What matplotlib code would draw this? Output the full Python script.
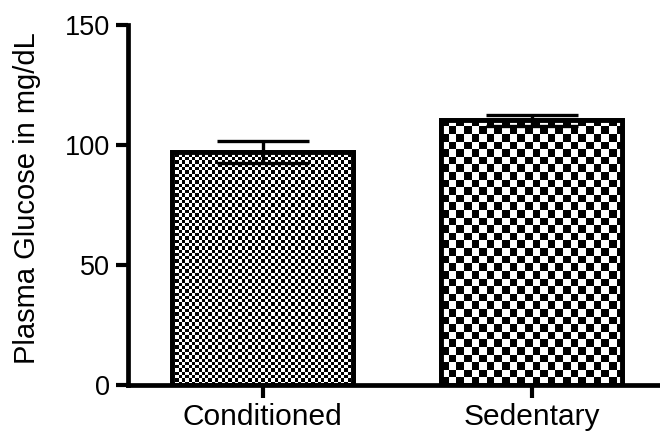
import numpy as np
import matplotlib
matplotlib.use("Agg")
import matplotlib.pyplot as plt

# ==============================
# DATA
# ==============================
groups = ["Conditioned", "Sedentary"]
glucose_mean = [97.0, 110.3]
glucose_sem = [4.6, 2.4]

y_ticks = [0, 50, 100, 150]

# checker cell size in pixels for each bar
CELL_PX = [3.3, 7.6]

plt.rcParams["font.family"] = ["Liberation Sans", "DejaVu Sans"]

# ==============================
# FIGURE
# ==============================
fig = plt.figure(figsize=(6.6, 4.33), dpi=100)
ax = fig.add_axes([128 / 660, 48 / 433, 538 / 660, 360 / 433])

x = np.arange(len(groups))
ax.set_xlim(-0.5, 1.5)
ax.set_ylim(0, 150)

bars = ax.bar(x, glucose_mean, width=0.67, color="white",
              edgecolor="black", linewidth=3.5, zorder=3)

# pixel -> data scale
fig.canvas.draw()
p0 = ax.transData.transform((0, 0))
p1 = ax.transData.transform((1, 1))
px_x = p1[0] - p0[0]
px_y = p1[1] - p0[1]

# checkerboard fill, clipped to each bar
for bar, cell in zip(bars, CELL_PX):
    bx, bw, bh = bar.get_x(), bar.get_width(), bar.get_height()
    nx = int(np.ceil(bw * px_x / cell))
    ny = int(np.ceil(bh * px_y / cell))
    yy, xx = np.indices((ny, nx))
    board = (xx + yy) % 2
    img = ax.imshow(board, cmap="gray", origin="lower", aspect="auto",
                    interpolation="nearest",
                    extent=(bx, bx + nx * cell / px_x, 0, ny * cell / px_y),
                    zorder=3.5)
    img.set_clip_path(bar)

# redraw outlines over the pattern
ax.bar(x, glucose_mean, width=0.67, color="none",
       edgecolor="black", linewidth=3.5, zorder=4)

ax.errorbar(x, glucose_mean, yerr=glucose_sem, fmt="none", ecolor="black",
            elinewidth=2.4, capsize=33, capthick=2.4, zorder=5)

# ==============================
# AXES STYLE
# ==============================
for side in ["top", "right"]:
    ax.spines[side].set_visible(False)
for side in ["left", "bottom"]:
    ax.spines[side].set_linewidth(3.4)
ax.spines["bottom"].set_zorder(6)

ax.set_xticks(x)
ax.set_xticklabels(groups, fontsize=21.5)
ax.set_yticks(y_ticks)
ax.set_yticklabels([str(t) for t in y_ticks], fontsize=19.5)
ax.tick_params(axis="both", direction="out", length=9, width=3, pad=4)

ax.set_ylabel("Plasma Glucose in mg/dL", fontsize=21)
ax.yaxis.set_label_coords(-0.161, 0.52)

plt.savefig("out.png", dpi=100)
